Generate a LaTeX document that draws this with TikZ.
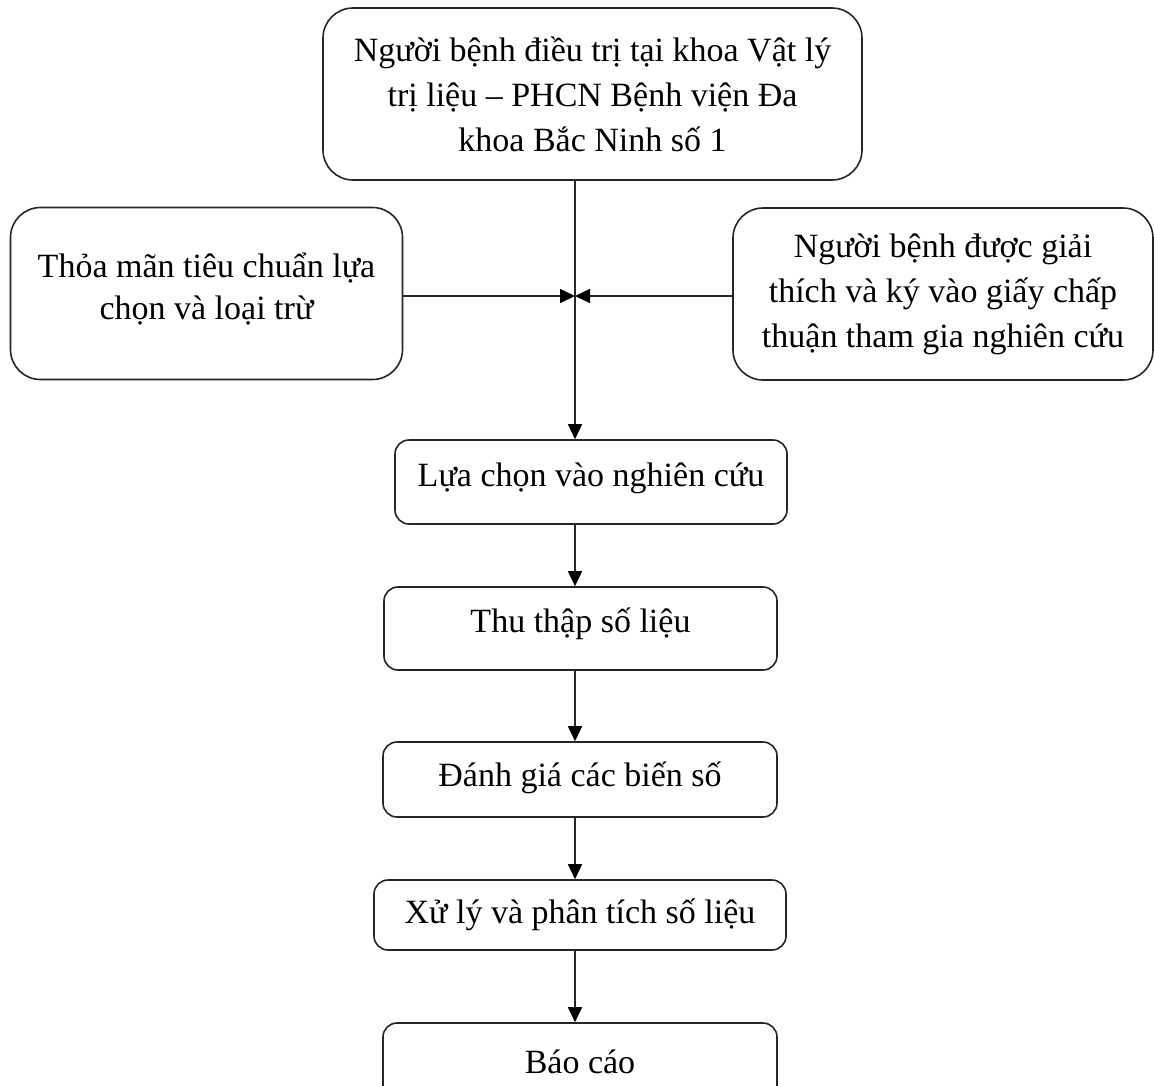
\documentclass[tikz,border=0pt]{standalone}
\usepackage{fontspec}
\setmainfont{Liberation Serif}
\usetikzlibrary{arrows.meta,calc}
\newcommand{\liftup}[2]{\raisebox{#1}[\height][\depth]{#2}}
\begin{document}
\begin{tikzpicture}[x=1pt,y=-1pt,
  box/.style={draw=black!85, line width=1.6pt, align=center, inner sep=0pt,
    font=\fontsize{34}{45}\selectfont, text=black},
  bigbox/.style={box, rounded corners=30pt},
  smallbox/.style={box, rounded corners=14pt},
  arr/.style={draw=black!85, line width=1.6pt, -{Triangle[length=15pt,width=14pt,fill=black,color=black]}}]
\clip (0,0) rectangle (1154,1085);
\coordinate (ax) at (575,0);
\node[bigbox, minimum width=539pt, minimum height=172pt] (top) at (592.5,94) {Người bệnh điều trị tại khoa Vật lý\\trị liệu – PHCN Bệnh viện Đa\\khoa Bắc Ninh số 1};
\node[bigbox, minimum width=392pt, minimum height=172pt] (left) at (206.5,293.5) {\liftup{4pt}{\begin{tabular}{@{}c@{}}Thỏa mãn tiêu chuẩn lựa\\[-3pt]chọn và loại trừ\end{tabular}}};
\node[bigbox, minimum width=420pt, minimum height=172pt] (right) at (943,294) {Người bệnh được giải\\thích và ký vào giấy chấp\\thuận tham gia nghiên cứu};
\node[smallbox, minimum width=392pt, minimum height=84pt] (lc) at (591,482) {\liftup{4pt}{Lựa chọn vào nghiên cứu}};
\node[smallbox, minimum width=393pt, minimum height=83pt] (tt) at (580.5,628.5) {\liftup{5pt}{Thu thập số liệu}};
\node[smallbox, minimum width=394pt, minimum height=75pt] (dg) at (580,779.5) {\liftup{2pt}{Đánh giá các biến số}};
\node[smallbox, minimum width=412pt, minimum height=70pt] (xl) at (580,915) {Xử lý và phân tích số liệu};
\node[smallbox, minimum width=394pt, minimum height=78pt] (bc) at (580,1062) {Báo cáo};
\coordinate (jn) at (575,296);
\draw[arr] (top.south -| ax) -- (lc.north -| ax);
\draw[arr] (left.east |- jn) -- (jn);
\draw[arr] (right.west |- jn) -- (jn);
\draw[arr] (lc.south -| ax) -- (tt.north -| ax);
\draw[arr] (tt.south -| ax) -- (dg.north -| ax);
\draw[arr] (dg.south -| ax) -- (xl.north -| ax);
\draw[arr] (xl.south -| ax) -- (bc.north -| ax);
\end{tikzpicture}
\end{document}
